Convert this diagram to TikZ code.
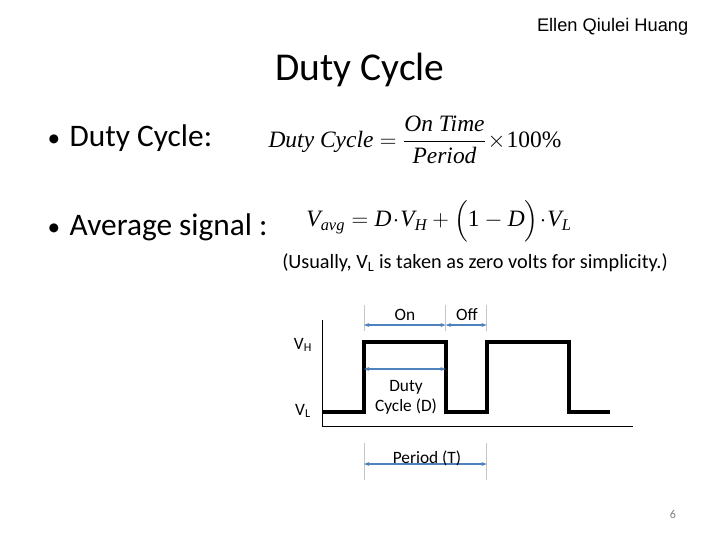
\documentclass[tikz,border=0pt]{standalone}
\usepackage{amsmath}
\usepackage{fontspec}
\setmainfont{Carlito}
\newfontfamily\arialfont{Liberation Sans}
\newfontfamily\timesfont{Liberation Serif}
\usepackage{tikz}
\usetikzlibrary{arrows.meta,positioning}
\definecolor{dimblue}{RGB}{79,129,189}
\newcommand{\tms}[1]{\text{\timesfont\itshape #1}}
\newcommand{\tmsup}[1]{\text{\timesfont #1}}

\begin{document}
\begin{tikzpicture}[
    x=0.75pt, y=-0.75pt,
    bullet/.style={anchor=west, font=\fontsize{23.5}{28}\selectfont},
    formula/.style={font=\fontsize{17.6}{21}\selectfont},
    label/.style={font=\fontsize{13}{15}\selectfont},
    wave/.style={line width=3pt, line join=miter},
    axis/.style={line width=0.6pt},
    extline/.style={gray!45, line width=0.5pt},
    dimarrow/.style={{Stealth[length=4pt]}-{Stealth[length=4pt]}, dimblue, line width=1pt}
]
\useasboundingbox (0,0) rectangle (720,540);

% Header
\node[anchor=east, font=\arialfont\fontsize{13.7}{16}\selectfont] (author) at (693,27) {Ellen Qiulei Huang};
\node[font=\fontsize{29.6}{34}\selectfont] (title) at (360,70) {Duty Cycle};

% Bullets
\node[bullet] (b1) at (43,138) {{\fontsize{19}{22}\selectfont\textbullet}\hspace{0.3em}Duty Cycle:};
\node[bullet] (b2) at (43,227) {{\fontsize{19}{22}\selectfont\textbullet}\hspace{0.3em}Average signal :};

% Formulas
\node[formula] (eq1) at (415,140)
  {$\tms{Duty Cycle} = \dfrac{\tms{On Time}}{\tms{Period}}\!\times\!\tmsup{100\%}$};
\node[formula] (eq2) at (439,221)
  {$\tms{V}_{\tms{avg}} = \tms{D}\!\cdot\! \tms{V}_{\tms{H}} + \Bigl(\tmsup{1} - \tms{D}\Bigr)\!\cdot\! \tms{V}_{\tms{L}}$};
\node[font=\fontsize{15.2}{18}\selectfont] (note) at (475,263)
  {(Usually, V\textsubscript{L} is taken as zero volts for simplicity.)};

% Axes
\coordinate (origin) at (322.7,426.7);
\coordinate (ytop) at (322.7,320);
\coordinate (xend) at (633,426.7);
\draw[axis] (ytop) -- (origin) -- (xend);

% Waveform
\draw[wave] (322.7,411.7) -- (364,411.7) -- (364,341.7) -- (445.7,341.7)
  -- (445.7,411.7) -- (486.7,411.7) -- (486.7,341.7) -- (569,341.7)
  -- (569,411.7) -- (610,411.7);

% Level labels
\node[label] (vh) at (303,345) {V\textsubscript{H}};
\node[label] (vl) at (303,411) {V\textsubscript{L}};

% On / Off markers
\coordinate (m1) at (364,325);
\coordinate (m2) at (445.7,325);
\coordinate (m3) at (486.7,325);
\draw[extline] (364,305) -- (364,331);
\draw[extline] (445.7,305) -- (445.7,331);
\draw[extline] (486.7,305) -- (486.7,331);
\draw[dimarrow] (m1) -- (m2);
\draw[dimarrow] (m2) -- (m3);
\node[label] (on) at (405,315) {On};
\node[label] (off) at (467,315) {Off};

% Duty cycle
\coordinate (d1) at (364,369);
\coordinate (d2) at (445.7,369);
\draw[dimarrow] (d1) -- (d2);
\node[label, align=center] (duty) at (406,397) {Duty\\Cycle (D)};

% Period
\coordinate (p1) at (364,464);
\coordinate (p2) at (486.7,464);
\draw[extline] (364,443) -- (364,480);
\draw[extline] (486.7,443) -- (486.7,480);
\draw[dimarrow] (p1) -- (p2);
\node[label] (period) at (427,458) {Period (T)};

% Page number
\node[text=gray, font=\fontsize{9}{11}\selectfont] (page) at (673,514) {6};

\end{tikzpicture}
\end{document}
